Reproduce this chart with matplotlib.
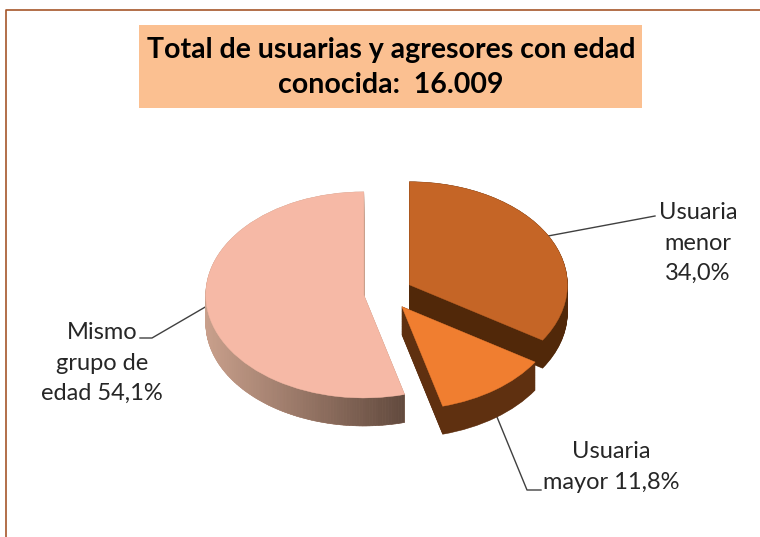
import numpy as np
import matplotlib
matplotlib.use("Agg")
import matplotlib.pyplot as plt
from matplotlib.patches import Rectangle, Wedge
from matplotlib.colors import to_rgb
from matplotlib.lines import Line2D

plt.rcParams['font.family'] = ['Lato', 'DejaVu Sans']

titulo = "Total de usuarias y agresores con edad\nconocida:  16.009"
categorias = ["Usuaria\nmenor\n34,0%", "Usuaria\nmayor 11,8%", "Mismo\ngrupo de\nedad 54,1%"]
valores = [34.0, 11.8, 54.1]
separacion = [0.165, 0.165, 0.145]
colores = ["#C56526", "#F07E30", "#F6B9A6"]
colores_lado = ["#512809", "#5F3010", "#C9A08C"]

W, H = 760, 537
RX, RY = 158, 103
CX, CY = 386.5, 293
GROSOR = 28 / RY


def px(x, y):
    # pixeles de la imagen a coordenadas de figura
    return x / W, 1 - y / H


fig = plt.figure(figsize=(W / 100, H / 100), dpi=100, facecolor="white")
ax = fig.add_axes([0, 0, 1, 1])

total = sum(valores)
wedges, _ = ax.pie([v / total for v in valores], explode=separacion, colors=colores,
                   startangle=90, counterclock=False, normalize=False, radius=1)
ax.set_aspect('auto')
ax.set_xlim(-CX / RX, (W - CX) / RX)
ax.set_ylim((CY - H) / RY, CY / RY)
ax.axis('off')

# lineas guia, debajo de la tarta
guias = [
    ([548, 655], [236, 216]),
    ([497, 527, 541], [417, 490, 490]),
    ([140, 152, 207], [338, 338, 306]),
]
for xs, ys in guias:
    fx, fy = zip(*[px(a, b) for a, b in zip(xs, ys)])
    fig.add_artist(Line2D(fx, fy, color="#404040", lw=1.0, zorder=1))

ax.set_zorder(2)
ax.patch.set_alpha(0)

# orden de dibujo: rosa, marron, naranja
orden = {2: 10, 0: 20, 1: 30}
for i, w in enumerate(wedges):
    z = orden[i]
    for d in np.linspace(GROSOR, 0, 40):
        ax.add_patch(Wedge((w.center[0], w.center[1] - d), w.r, w.theta1, w.theta2,
                           facecolor=colores_lado[i], edgecolor=colores_lado[i], lw=0.4, zorder=z))
    w.set_zorder(z + 5)
    w.set_edgecolor(colores[i])
    w.set_linewidth(0.3)

# lado del sector rosa con degradado
w = wedges[2]
ini = np.array(to_rgb("#C9A08C"))
fin = np.array(to_rgb("#624A3E"))
angulos = np.linspace(-180, w.theta2, 90)
x0 = w.center[0] + np.cos(np.radians(-180))
x1 = w.center[0] + np.cos(np.radians(w.theta2))
for a, b in zip(angulos[:-1], angulos[1:]):
    ta = np.radians([a, b])
    xs = w.center[0] + np.cos(ta)
    ys = w.center[1] + np.sin(ta)
    t = (xs.mean() - x0) / (x1 - x0)
    c = ini + (fin - ini) * t
    ax.fill([xs[0], xs[1], xs[1], xs[0]],
            [ys[0], ys[1], ys[1] - GROSOR, ys[0] - GROSOR],
            facecolor=c, edgecolor=c, lw=0.4, zorder=12)

# marco de la imagen
mx, my = zip(*[px(6, H), px(6, 10), px(W, 10)])
fig.add_artist(Line2D(mx, my, color="#A5562A", lw=1.2, zorder=1))

# caja del titulo
bx, by = px(139, 108)
fig.add_artist(Rectangle((bx, by), 503 / W, 83 / H, transform=fig.transFigure,
                         facecolor="#FBC091", edgecolor="none", zorder=3))
tx, ty = px(391, 67.5)
fig.text(tx, ty, titulo, ha='center', va='center', fontsize=20.5, fontweight='bold',
         color="black", linespacing=1.45, zorder=4)

# etiquetas
posiciones = [(698, 243), (611, 467), (102, 363)]
for texto, (x, y) in zip(categorias, posiciones):
    fx, fy = px(x, y)
    fig.text(fx, fy, texto, ha='center', va='center', fontsize=17, color="#262626",
             linespacing=1.55, zorder=4)

fig.savefig("out.png", dpi=100)
